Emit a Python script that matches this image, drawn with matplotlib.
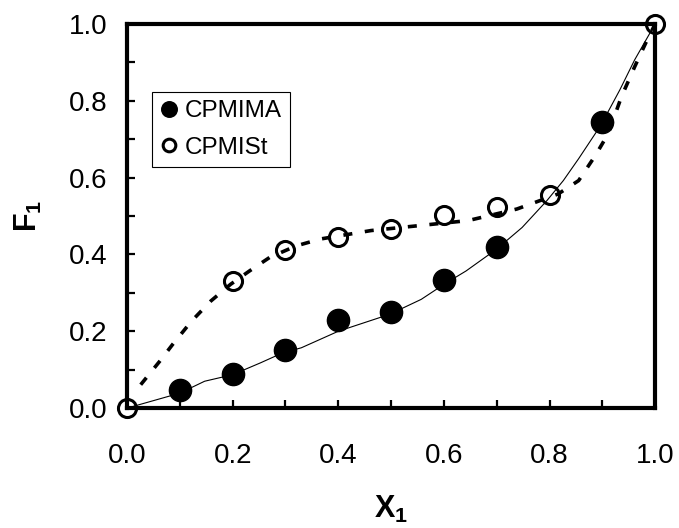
import matplotlib.pyplot as plt

plt.rcParams['font.family'] = ['Liberation Sans', 'DejaVu Sans']
plt.rcParams['mathtext.fontset'] = 'custom'
plt.rcParams['mathtext.bf'] = 'Liberation Sans:bold'

# experimental points
x_mima = [0.1, 0.2, 0.3, 0.4, 0.5, 0.6, 0.7, 0.9]
F_mima = [0.047, 0.089, 0.151, 0.229, 0.25, 0.333, 0.419, 0.745]

x_mist = [0.0, 0.2, 0.3, 0.4, 0.5, 0.6, 0.7, 0.8, 1.0]
F_mist = [0.0, 0.331, 0.411, 0.445, 0.466, 0.503, 0.523, 0.555, 1.0]

# fitted curves
curve_mima_x = [0.0, 0.1, 0.147, 0.2, 0.253, 0.295, 0.33, 0.4, 0.497, 0.557, 0.6,
                0.642, 0.7, 0.748, 0.795, 0.826, 0.855, 0.897, 0.933, 0.961, 1.0]
curve_mima_F = [0.0, 0.039, 0.07, 0.087, 0.118, 0.144, 0.157, 0.2, 0.244, 0.283, 0.322,
                0.357, 0.414, 0.47, 0.54, 0.592, 0.649, 0.736, 0.828, 0.906, 1.0]

curve_mist_x = [0.026, 0.062, 0.086, 0.122, 0.159, 0.196, 0.232, 0.27, 0.32, 0.366,
                0.462, 0.554, 0.646, 0.738, 0.816, 0.855, 0.887, 0.911, 0.936, 0.961, 0.982, 1.0]
curve_mist_F = [0.061, 0.122, 0.165, 0.226, 0.279, 0.322, 0.357, 0.392, 0.422, 0.44,
                0.462, 0.475, 0.488, 0.518, 0.557, 0.592, 0.658, 0.714, 0.81, 0.888, 0.95, 1.0]

ticks = [0, 0.2, 0.4, 0.6, 0.8, 1.0]
tick_labels = ['0.0', '0.2', '0.4', '0.6', '0.8', '1.0']
minor_ticks = [0.1, 0.3, 0.5, 0.7, 0.9]

fig = plt.figure(figsize=(6.79, 5.28), dpi=100)
ax = fig.add_axes([0.187, 0.227, 0.778, 0.728])

ax.plot(curve_mima_x, curve_mima_F, color='black', lw=0.8, zorder=2)
ax.plot(curve_mist_x, curve_mist_F, color='black', lw=2.6, ls=(0, (2.5, 3.5)), zorder=2)

ax.plot(x_mima, F_mima, 'o', color='black', ms=16, label='CPMIMA', zorder=3, clip_on=False)
ax.plot(x_mist, F_mist, 'o', mfc='none', mec='black', mew=2.2, ms=13,
        label='CPMISt', zorder=3, clip_on=False)

ax.set_xlim(0, 1)
ax.set_ylim(0, 1)
ax.set_xticks(ticks)
ax.set_yticks(ticks)
ax.set_xticks(minor_ticks, minor=True)
ax.set_yticks(minor_ticks, minor=True)
ax.set_xticklabels(tick_labels)
ax.set_yticklabels(tick_labels)
ax.tick_params(which='both', direction='in', width=1.6, length=6, labelsize=20)
ax.tick_params(axis='x', which='both', pad=25)
ax.tick_params(axis='y', which='both', pad=14)
for s in ax.spines.values():
    s.set_linewidth(3)

ax.set_xlabel('X$_\\mathbf{1}$', fontsize=22, fontweight='bold', labelpad=18)
ax.set_ylabel('F$_\\mathbf{1}$', fontsize=22, fontweight='bold', labelpad=18)

leg = ax.legend(loc='upper left', bbox_to_anchor=(0.047, 0.823), borderaxespad=0,
                fontsize=17.5, markerscale=0.7, handlelength=0.7, handletextpad=0.3,
                fancybox=False, edgecolor='black', framealpha=1, borderpad=0.35,
                labelspacing=0.6)
leg.get_frame().set_linewidth(0.8)

fig.savefig('out.png', dpi=100)
